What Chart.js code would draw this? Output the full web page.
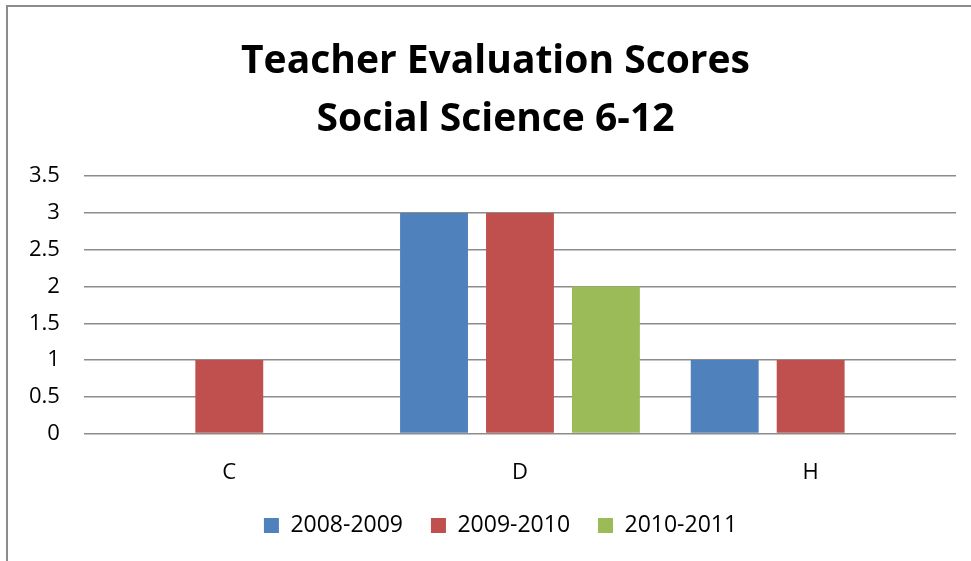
<!DOCTYPE html>
<html>
<head>
<meta charset="utf-8">
<script src="https://cdn.jsdelivr.net/npm/chart.js@4"></script>
<style>
  html, body { margin: 0; padding: 0; background: #fff; overflow: hidden; }
  #frame { position: absolute; left: 6px; top: 5px; width: 1000px; height: 600px; border: 2px solid #8c8c8c; }
  #wrap { position: absolute; left: 0; top: 0; width: 971px; height: 561px; }
</style>
</head>
<body>
<div id="frame"></div>
<div id="wrap"><canvas id="chart"></canvas></div>
<script>
// Teacher evaluation scores chart

const categories = ['C', 'D', 'H'];
const seriesNames = ['2008-2009', '2009-2010', '2010-2011'];
const scores2008 = [0, 3, 1];
const scores2009 = [1, 3, 1];
const scores2010 = [0, 2, 0];
const titleLines = ['Teacher Evaluation Scores', 'Social Science 6-12'];

const COLORS = ['#4f81bd', '#c0504d', '#9bbb59'];
const FONT = "'Open Sans', 'Noto Sans', sans-serif";

// nudge the legend and title a bit to the right, like the original
const blockShift = {
    id: 'blockShift',
    beforeDraw: chart => {
        const moves = [[chart.legend, 20], [chart.titleBlock, 15]];
        moves.forEach(([box, dx]) => {
            if (!box || box._shifted) return;
            box.left += dx;
            box.right += dx;
            box._shifted = true;
        });
    }
};

const ctx = document.getElementById('chart');
new Chart(ctx, {
    type: 'bar',
    data: {
        labels: categories,
        datasets: [scores2008, scores2009, scores2010].map((vals, i) => ({
            label: seriesNames[i],
            data: vals,
            backgroundColor: COLORS[i],
            borderWidth: 0,
            categoryPercentage: 0.887,
            barPercentage: 0.79
        }))
    },
    options: {
        responsive: true,
        maintainAspectRatio: false,
        animation: false,
        layout: { padding: { left: 5, right: 15, top: 33, bottom: 14 } },
        plugins: {
            title: {
                display: true,
                text: titleLines,
                color: '#000',
                font: { family: FONT, size: 39, weight: 'bold', lineHeight: 1.49 },
                padding: { top: 0, bottom: 27 }
            },
            legend: {
                position: 'bottom',
                labels: {
                    color: '#000',
                    boxWidth: 15,
                    boxHeight: 15,
                    padding: 10,
                    font: { family: FONT, size: 23 },
                    // widen the gap between items without adding vertical room
                    generateLabels: chart => {
                        const items = Chart.defaults.plugins.legend.labels.generateLabels(chart);
                        items.forEach((it, i) => {
                            if (i < items.length - 1) it.text = it.text + '   ';
                        });
                        return items;
                    }
                }
            },
            tooltip: { enabled: false }
        },
        scales: {
            x: {
                grid: { display: false },
                border: { display: false },
                ticks: { color: '#000', padding: 18, font: { family: FONT, size: 22 } }
            },
            y: {
                min: 0,
                max: 3.5,
                ticks: {
                    stepSize: 0.5,
                    color: '#000',
                    padding: 24,
                    font: { family: FONT, size: 22 },
                    callback: v => String(v)
                },
                grid: { color: '#8c8c8c', lineWidth: 1.5, drawTicks: false },
                border: { display: false }
            }
        }
    },
    plugins: [blockShift]
});
</script>
</body>
</html>
